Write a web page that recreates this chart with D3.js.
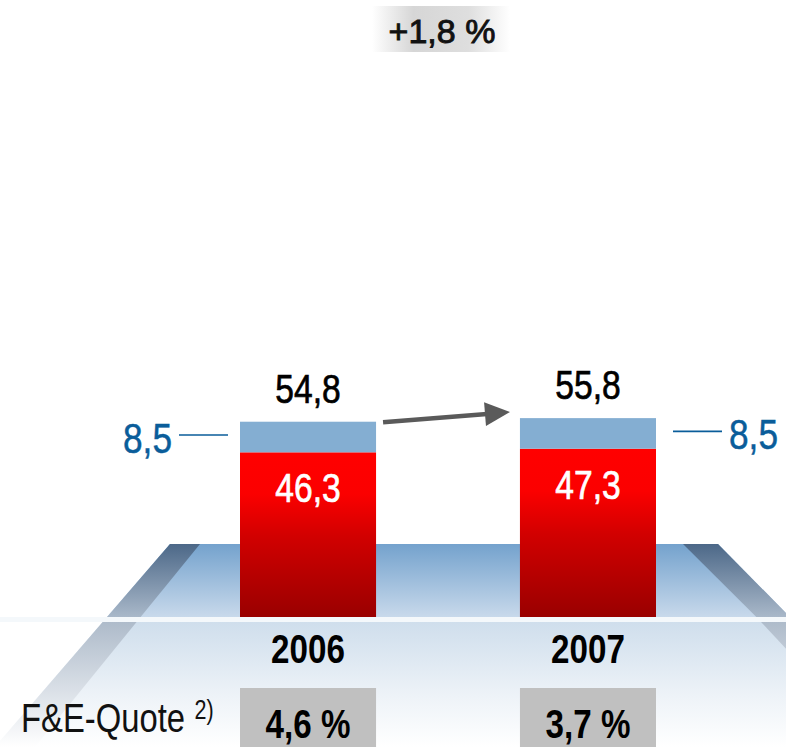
<!DOCTYPE html>
<html><head><meta charset="utf-8">
<script src="https://cdn.jsdelivr.net/npm/d3@7"></script>
<style>html,body{margin:0;padding:0;background:#fff;}svg{display:block;}</style>
</head><body>
<script>
// ---- data ----
const years = ["2006", "2007"];
const baseValues = [46.3, 47.3];   // red segment
const topValues = [8.5, 8.5];      // light blue segment
const totals = [54.8, 55.8];
const quoteLabels = ["4,6 %", "3,7 %"];
const growthLabel = "+1,8 %";
const quoteTitle = "F&E-Quote";
const quoteNote = "2)";

const W = 786, H = 747;
const SANS = "'Liberation Sans',Arial,sans-serif";
const de = d3.formatLocale({decimal: ",", thousands: ".", grouping: [3], currency: ["", " €"]});
const fmt = de.format(".1f");

const svg = d3.select("body").append("svg").attr("width", W).attr("height", H);
const defs = svg.append("defs");

function vgrad(id, stops) {
  const g = defs.append("linearGradient").attr("id", id).attr("x1", 0).attr("y1", 0).attr("x2", 0).attr("y2", 1);
  stops.forEach(s => g.append("stop").attr("offset", s[0]).attr("stop-color", s[1]));
}
function hgrad(id, stops) {
  const g = defs.append("linearGradient").attr("id", id).attr("x1", 0).attr("y1", 0).attr("x2", 1).attr("y2", 0);
  stops.forEach(s => g.append("stop").attr("offset", s[0]).attr("stop-color", s[1]));
}
vgrad("red", [[0, "#ff0000"], [0.25, "#fb0000"], [0.5, "#d20000"], [1, "#980000"]]);
vgrad("surfUp", [[0, "#74a2cd"], [1, "#c8d9eb"]]);
vgrad("bandUp", [[0, "#4c6888"], [1, "#a9b8c9"]]);
vgrad("surfLow", [[0, "#cfdeec"], [0.6, "#eef3f8"], [1, "#ffffff"]]);
vgrad("bandLow", [[0, "#aebbca"], [0.7, "#e6eaef"], [1, "#ffffff"]]);
hgrad("topBg", [[0, "#ffffff"], [0.3, "#d6d6d6"], [0.7, "#dedede"], [1, "#ffffff"]]);

// narrow text helper: real text, horizontally condensed
function ntext(parent, tx, ty, str, o) {
  return parent.append("text")
    .attr("transform", `translate(${tx},${ty}) scale(${o.sx || 0.83},1)`)
    .attr("text-anchor", o.anchor || "middle")
    .attr("font-family", SANS).attr("font-size", o.size)
    .attr("font-weight", o.weight || "normal")
    .attr("fill", o.fill || "#000")
    .attr("stroke", o.stroke || "none").attr("stroke-width", o.sw || 0)
    .text(str);
}

// ---- scales ----
const x = d3.scaleBand().domain(years).range([240, 656]).paddingInner(0.514).paddingOuter(0);
const y = d3.scaleLinear().domain([0, 60]).range([619, 619 - 60 * 3.6]);

// ---- platform ----
const pTop = 544, pBot = 617, lTop = 622;
const slopeL = (170 - 107) / (pBot - pTop);
const slopeR = (790 - 718) / (pBot - pTop);
const xl = yy => 170 - (yy - pTop) * slopeL;
const xr = yy => 718 + (yy - pTop) * slopeR;
const bw = yy => 30 + (yy - pTop) * 0.05;

svg.append("path").attr("d", `M${xl(lTop)},${lTop}L${xr(lTop)},${lTop}L${xr(H)},${H}L${xl(H)},${H}Z`).attr("fill", "url(#surfLow)");
svg.append("path").attr("d", `M${xl(lTop)},${lTop}L${xl(lTop)+bw(lTop)},${lTop}L${xl(H)+bw(H)},${H}L${xl(H)},${H}Z`).attr("fill", "url(#bandLow)");
svg.append("path").attr("d", `M${xr(lTop)-bw(lTop)},${lTop}L${xr(lTop)},${lTop}L${xr(H)},${H}L${xr(H)-bw(H)},${H}Z`).attr("fill", "url(#bandLow)");
svg.append("path").attr("d", `M${xl(pTop)},${pTop}L${xr(pTop)},${pTop}L${xr(pBot)},${pBot}L${xl(pBot)},${pBot}Z`).attr("fill", "url(#surfUp)");
svg.append("path").attr("d", `M${xl(pTop)},${pTop}L${xl(pTop)+bw(pTop)},${pTop}L${xl(pBot)+bw(pBot)},${pBot}L${xl(pBot)},${pBot}Z`).attr("fill", "url(#bandUp)");
svg.append("path").attr("d", `M${xr(pTop)-bw(pTop)-5},${pTop}L${xr(pTop)},${pTop}L${xr(pBot)},${pBot}L${xr(pBot)-bw(pBot)},${pBot}Z`).attr("fill", "url(#bandUp)");

// ---- bars ----
const data = years.map((yr, i) => ({yr, base: baseValues[i], top: topValues[i], total: totals[i], quote: quoteLabels[i]}));
const g = svg.append("g");
g.selectAll("rect.base").data(data).join("rect").attr("class", "base")
  .attr("x", d => x(d.yr)).attr("width", x.bandwidth())
  .attr("y", d => y(d.base)).attr("height", d => y(0) - y(d.base)).attr("fill", "url(#red)");
g.selectAll("rect.top").data(data).join("rect").attr("class", "top")
  .attr("x", d => x(d.yr)).attr("width", x.bandwidth())
  .attr("y", d => y(d.total)).attr("height", d => y(d.base) - y(d.total)).attr("fill", "#84aed2");

svg.append("rect").attr("x", 0).attr("y", pBot).attr("width", W).attr("height", lTop - pBot).attr("fill", "#f4f8fb");

data.forEach(d => {
  const cx = x(d.yr) + x.bandwidth() / 2;
  ntext(g, cx, y(d.total) - 19, fmt(d.total), {size: 41, sx: 0.82, stroke: "#000", sw: 0.7});
  ntext(g, cx, y(d.base) + 50, fmt(d.base), {size: 41, sx: 0.82, fill: "#fff", stroke: "#fff", sw: 0.7});
  ntext(g, cx, 663, d.yr, {size: 40, sx: 0.83, weight: "bold"});
});

// side blue labels
const blue = "#0a5d9a";
const midY = d => (y(d.base) + y(d.total)) / 2;
[{d: data[0], side: -1}, {d: data[1], side: 1}].forEach(s => {
  const yy = midY(s.d) - 2;
  const edge = s.side < 0 ? x(s.d.yr) - 12 : x(s.d.yr) + x.bandwidth() + 17;
  const lineEnd = edge + s.side * 49;
  svg.append("line").attr("x1", edge).attr("x2", lineEnd).attr("y1", yy).attr("y2", yy).attr("stroke", blue).attr("stroke-width", 1.6);
  ntext(svg, lineEnd + s.side * 7, yy + 18, fmt(s.d.top), {size: 43, sx: 0.82, fill: blue, stroke: blue, sw: 0.5, anchor: s.side < 0 ? "end" : "start"});
});

// arrow
const ax1 = x(years[0]) + x.bandwidth() + 7, ay1 = y(totals[0]) + 0.5;
const ax2 = x(years[1]) - 10, ay2 = y(totals[1]) - 6;
const ang = Math.atan2(ay2 - ay1, ax2 - ax1);
const hl = 25, hw = 12;
const bx = ax2 - hl * Math.cos(ang), by = ay2 - hl * Math.sin(ang);
svg.append("line").attr("x1", ax1).attr("y1", ay1).attr("x2", bx + 2).attr("y2", by).attr("stroke", "#5a5a5a").attr("stroke-width", 4.5);
svg.append("path").attr("d", `M${ax2},${ay2}L${bx - hw * Math.sin(ang)},${by + hw * Math.cos(ang)}L${bx + hw * Math.sin(ang)},${by - hw * Math.cos(ang)}Z`).attr("fill", "#5a5a5a");

// growth label
svg.append("rect").attr("x", 372).attr("y", 6).attr("width", 138).attr("height", 46).attr("fill", "url(#topBg)");
svg.append("text").attr("x", 442).attr("y", 43).attr("text-anchor", "middle").attr("font-family", SANS)
  .attr("font-size", 34).attr("fill", "#111").attr("stroke", "#111").attr("stroke-width", 0.9).text(growthLabel);

// quote boxes
g.selectAll("rect.quote").data(data).join("rect").attr("class", "quote")
  .attr("x", d => x(d.yr)).attr("width", x.bandwidth()).attr("y", 688).attr("height", H - 688).attr("fill", "#c0c0c0");
data.forEach(d => {
  ntext(g, x(d.yr) + x.bandwidth() / 2, 738, d.quote, {size: 40, sx: 0.83, weight: "bold"});
});

const qt = svg.append("text").attr("transform", "translate(21,732) scale(0.8,1)")
  .attr("font-family", SANS).attr("font-size", 41).attr("fill", "#111");
qt.append("tspan").text(quoteTitle);
qt.append("tspan").attr("dx", 12).attr("dy", -13).attr("font-size", 27).text(quoteNote);
</script>
</body></html>
